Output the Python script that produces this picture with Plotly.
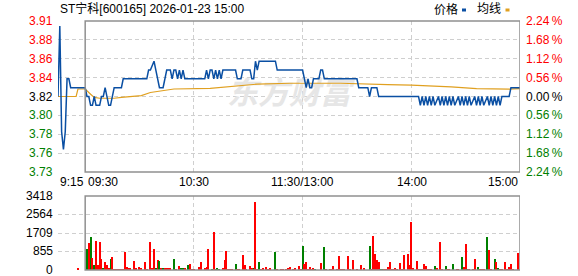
import plotly.graph_objects as go

# ---------------- data ----------------
PREV_CLOSE = 3.82
STEP_PCT = 0.56
title_text = "ST宁科[600165] 2026-01-23 15:00"

# minutes counted from 09:15 (morning 09:30 = 15, 11:30/13:00 = 135, 15:00 = 255)
price_t = [0, 1, 2, 3, 4, 5, 6, 7,
           15, 16, 17, 18, 19, 20, 21, 23, 24, 25, 26, 27, 28, 29, 30, 31, 35, 36, 49,
           50, 51, 53, 54, 55, 56, 58, 59, 60, 62, 63, 64, 65, 66, 67, 68, 69, 70, 81,
           82, 83, 84, 85, 86, 87, 88, 89, 90, 91, 98, 99, 101, 102, 106, 107, 108,
           109, 110, 111, 120, 121, 135, 136, 137, 138, 139, 140, 141, 144, 145, 146,
           147, 165, 166, 171, 172, 173, 176, 177, 199,
           200, 201, 202, 203, 204, 205, 206, 207, 208, 210, 211, 212, 213, 214, 215,
           216, 217, 218, 219, 221, 222, 223, 224, 225, 226, 227, 228, 230, 231, 232,
           233, 234, 235, 237, 238, 239, 240, 241, 242, 243, 244, 245, 249, 250, 255]
price_v = [3.82, 3.90, 3.78, 3.76, 3.78, 3.84, 3.84, 3.83,
           3.83, 3.82, 3.82, 3.81, 3.81, 3.82, 3.81, 3.81, 3.82, 3.82, 3.83, 3.82, 3.81, 3.81, 3.82, 3.83, 3.83, 3.84, 3.84,
           3.85, 3.85, 3.86, 3.85, 3.84, 3.83, 3.83, 3.84, 3.85, 3.85, 3.84, 3.85, 3.85, 3.84, 3.85, 3.84, 3.85, 3.84, 3.84,
           3.85, 3.84, 3.85, 3.85, 3.84, 3.85, 3.84, 3.85, 3.84, 3.85, 3.85, 3.84, 3.84, 3.85, 3.85, 3.84, 3.84,
           3.86, 3.85, 3.86, 3.86, 3.85, 3.85, 3.84, 3.83, 3.84, 3.83, 3.83, 3.84, 3.84, 3.85, 3.85,
           3.84, 3.84, 3.83, 3.83, 3.82, 3.83, 3.83, 3.82, 3.82,
           3.81, 3.82, 3.81, 3.82, 3.81, 3.82, 3.81, 3.82, 3.81, 3.82, 3.81, 3.82, 3.81, 3.82, 3.81,
           3.82, 3.81, 3.82, 3.81, 3.82, 3.81, 3.82, 3.81, 3.82, 3.81, 3.82, 3.81, 3.82, 3.81, 3.82,
           3.81, 3.82, 3.81, 3.82, 3.81, 3.82, 3.81, 3.82, 3.81, 3.82, 3.81, 3.82, 3.82, 3.83, 3.83]

avg_t = [0, 10, 11, 15, 18, 20, 23, 31, 35, 46, 51, 57, 64, 84, 91, 101, 110, 128,
         156, 182, 195, 217, 231, 249, 255]
avg_v = [3.82, 3.82, 3.8285, 3.8285, 3.8225, 3.819, 3.818, 3.818, 3.819, 3.821, 3.8245,
         3.8265, 3.8285, 3.8293, 3.8304, 3.832, 3.834, 3.835,
         3.835, 3.8335, 3.833, 3.831, 3.829, 3.8283, 3.829]

# volume: minute index after 09:30 (1 = 09:31 ... 240 = 15:00), shares in lots, 1 = up (red), 0 = down (green)
vol_k = [1, 2, 3, 4, 5, 6, 7, 8, 9, 10,
         11, 12, 13, 14, 15, 16, 17, 18, 19, 20,
         21, 22, 23, 24, 25, 27, 28, 30, 31, 33,
         34, 36, 37, 38, 39, 40, 41, 42, 43, 44,
         45, 46, 47, 49, 50, 52, 53, 54, 55, 57,
         58, 59, 60, 63, 64, 66, 67, 68, 70, 71,
         72, 73, 74, 76, 77, 78, 79, 80, 81, 83,
         84, 85, 87, 88, 89, 91, 92, 93, 94, 95,
         96, 97, 98, 100, 101, 102, 105, 106, 108, 109,
         111, 112, 113, 115, 116, 118, 119, 120,
         121, 122, 123, 124, 125, 126, 127, 130, 132, 133,
         135, 136, 137, 139, 140, 141, 142, 143, 145, 146,
         148, 150, 152, 154, 157, 158, 159, 160, 161, 162,
         163, 164, 165, 166, 167, 168, 169, 170, 171, 172,
         174, 175, 176, 178, 179, 180, 181, 183, 184, 185,
         186, 187, 188, 189, 190, 191, 193, 194, 196, 197,
         199, 200, 201, 203, 205, 206, 208, 209, 210, 211,
         212, 214, 215, 217, 218, 219, 220, 222, 223, 224,
         226, 227, 228, 229, 230, 232, 233, 234, 235, 236,
         239]
vol_v = [970, 1232, 1540, 554, 231, 1340, 231, 1294, 508, 92,
         370, 231, 62, 508, 616, 46, 46, 46, 46, 46,
         46, 832, 139, 62, 92, 416, 62, 139, 62, 370,
         46, 1294, 62, 970, 108, 462, 416, 62, 62, 92,
         62, 62, 62, 508, 46, 185, 62, 62, 62, 231,
         277, 46, 46, 139, 370, 62, 139, 970, 46, 1756,
         46, 62, 46, 62, 462, 878, 46, 46, 46, 277,
         46, 46, 693, 231, 46, 185, 92, 62, 3142, 46,
         370, 46, 62, 139, 46, 62, 832, 46, 46, 46,
         46, 92, 139, 46, 62, 185, 46, 1124,
         300, 370, 46, 139, 46, 92, 46, 323, 1063, 46,
         46, 46, 185, 46, 647, 46, 46, 46, 647, 46,
         462, 46, 231, 92, 1109, 46, 1571, 739, 462, 370,
         46, 46, 46, 46, 139, 370, 46, 46, 92, 46,
         323, 46, 693, 739, 231, 2218, 92, 416, 46, 46,
         46, 277, 185, 46, 46, 46, 185, 92, 1294, 46,
         185, 46, 46, 277, 46, 46, 601, 139, 1201, 46,
         46, 46, 508, 139, 46, 46, 46, 1525, 924, 46,
         508, 370, 92, 46, 46, 370, 46, 139, 277, 46,
         785]
vol_up = [0, 1, 0, 1, 0, 1, 1, 1, 1, 0,
          1, 1, 1, 0, 1, 1, 1, 1, 1, 1,
          1, 1, 1, 1, 1, 1, 1, 1, 1, 1,
          1, 1, 1, 1, 0, 1, 0, 1, 0, 1,
          1, 1, 1, 0, 1, 1, 0, 0, 1, 0,
          1, 1, 1, 1, 1, 1, 1, 1, 0, 1,
          1, 0, 0, 1, 1, 1, 1, 1, 1, 0,
          1, 1, 1, 1, 1, 1, 1, 0, 1, 1,
          0, 1, 1, 1, 1, 1, 0, 1, 1, 1,
          1, 1, 1, 1, 1, 1, 1, 0,
          1, 1, 1, 1, 1, 1, 0, 1, 0, 1,
          1, 1, 1, 1, 1, 1, 1, 1, 1, 1,
          1, 1, 1, 1, 0, 1, 1, 1, 1, 1,
          0, 0, 1, 1, 1, 1, 1, 1, 1, 1,
          1, 1, 1, 1, 1, 1, 1, 1, 1, 1,
          1, 1, 1, 1, 1, 1, 0, 1, 1, 1,
          0, 1, 1, 0, 1, 1, 0, 1, 1, 0,
          1, 1, 1, 0, 1, 1, 1, 0, 1, 1,
          0, 1, 0, 1, 1, 1, 1, 1, 1, 1,
          1]
pre_vol_t = [11]
pre_vol_v = [60]

price_tick_labels = ["3.91", "3.88", "3.86", "3.84", "3.82", "3.80", "3.78", "3.76", "3.73"]
pct_tick_labels = ["2.24\u2009%", "1.68\u2009%", "1.12\u2009%", "0.56\u2009%", "0.00\u2009%",
                   "0.56\u2009%", "1.12\u2009%", "1.68\u2009%", "2.24\u2009%"]
vol_tick_vals = [3418, 2564, 1709, 855, 0]
time_tick_pos = [0, 15, 75, 135, 195, 255]
time_tick_labels = ["9:15", "09:30", "10:30", "11:30/13:00", "14:00", "15:00"]
legend_labels = ["价格", "均线"]
watermark = "东方财富"

# ---------------- styles / layout ----------------
W, H = 578, 276
ML, MR, MT, MB = 58, 58, 21, 6
PW, PH = W - ML - MR, H - MT - MB
FONT = "Liberation Sans, Arial, Noto Sans CJK SC, sans-serif"
RED, GREEN, BLACK = "#ff0000", "#008000", "#000000"
BLUE_LINE, AVG_LINE = "#0a4fa3", "#e0a020"
GRID = "#cfcfcf"
BORDER = "#909090"


def px_x(px):
    return (px - ML) / PW


def px_y(py):
    return (H - MB - py) / PH


main_dom = [px_y(172), 1.0]
vol_dom = [0.0, px_y(196)]

levels = [PREV_CLOSE * (1 + (4 - i) * STEP_PCT / 100.0) for i in range(9)]
y_lo, y_hi = levels[-1], levels[0]
x_range = [time_tick_pos[0], time_tick_pos[-1]]
open_t = time_tick_pos[1]

fig = go.Figure()

# watermark (under the lines)
fig.add_trace(go.Scatter(
    x=[(x_range[0] + x_range[1]) / 2], y=[PREV_CLOSE], mode="text", text=[watermark],
    textfont=dict(size=31, color="#e6e6e6", family="Noto Sans CJK SC", weight="bold", style="italic"),
    hoverinfo="skip", showlegend=False, xaxis="x", yaxis="y"))

fig.add_trace(go.Scatter(x=avg_t, y=avg_v, mode="lines", line=dict(color=AVG_LINE, width=1.2),
                         showlegend=False, xaxis="x", yaxis="y"))
fig.add_trace(go.Scatter(x=price_t, y=price_v, mode="lines", line=dict(color=BLUE_LINE, width=1.5),
                         showlegend=False, xaxis="x", yaxis="y"))

vol_x = [open_t + k for k in vol_k]
vol_col = [RED if u else GREEN for u in vol_up]
fig.add_trace(go.Bar(x=vol_x, y=vol_v, marker=dict(color=vol_col, line=dict(width=0)), width=0.6,
                     showlegend=False, xaxis="x2", yaxis="y2"))
fig.add_trace(go.Bar(x=pre_vol_t, y=pre_vol_v, marker=dict(color=RED, line=dict(width=0)), width=0.6,
                     showlegend=False, xaxis="x2", yaxis="y2"))

grid_x = [time_tick_pos[0], time_tick_pos[2], time_tick_pos[3], time_tick_pos[4]]
ax_common = dict(showgrid=True, gridcolor=GRID, griddash="4px,3px", gridwidth=1,
                 zeroline=False, showline=False, ticks="", showticklabels=False, fixedrange=True)

fig.update_layout(
    width=W, height=H, margin=dict(l=ML, r=MR, t=MT, b=MB),
    paper_bgcolor="white", plot_bgcolor="white", bargap=0, showlegend=False,
    font=dict(family=FONT, size=12, color=BLACK),
    xaxis=dict(domain=[0, 1], range=x_range, anchor="y", tickvals=grid_x, **ax_common),
    yaxis=dict(domain=main_dom, range=[y_lo, y_hi], anchor="x", tickvals=levels, **ax_common),
    xaxis2=dict(domain=[0, 1], range=x_range, anchor="y2", matches="x", tickvals=grid_x, **ax_common),
    yaxis2=dict(domain=vol_dom, range=[0, vol_tick_vals[0]], anchor="x2", tickvals=vol_tick_vals, **ax_common),
)

# solid frames of the trading session
for yr in ["y domain", "y2 domain"]:
    fig.add_shape(type="rect", xref="x", yref=yr, x0=open_t, x1=x_range[1], y0=0, y1=1,
                  line=dict(color=BORDER, width=1.5), layer="above")

ann = []
# title
ann.append(dict(text=title_text, xref="paper", yref="paper", x=0, y=px_y(8.5), xanchor="left",
                yanchor="middle", showarrow=False, font=dict(size=12, color=BLACK)))
# legend
leg_x = [431.5, 475]
leg_col = [BLUE_LINE, AVG_LINE]
for lab, lx, col in zip(legend_labels, leg_x, leg_col):
    ann.append(dict(text=lab, xref="paper", yref="paper", x=px_x(lx), y=px_y(9), xanchor="left",
                    yanchor="middle", showarrow=False, font=dict(size=12, color=BLACK)))
    fig.add_shape(type="rect", xref="paper", yref="paper", x0=px_x(lx + 30.5), x1=px_x(lx + 34.5),
                  y0=px_y(11.5), y1=px_y(8.5), fillcolor=col, line=dict(width=0))

# price axis labels
for i, (lv, lab, plab) in enumerate(zip(levels, price_tick_labels, pct_tick_labels)):
    col = RED if i < 4 else (BLACK if i == 4 else GREEN)
    ann.append(dict(text=lab, xref="paper", yref="y", x=0, y=lv, xanchor="right", yanchor="middle",
                    xshift=-3, showarrow=False, font=dict(size=12, color=col)))
    ann.append(dict(text=plab, xref="paper", yref="y", x=1, y=lv, xanchor="left", yanchor="middle",
                    xshift=4, showarrow=False, font=dict(size=12, color=col)))
# volume axis labels
for v in vol_tick_vals:
    ann.append(dict(text=str(v), xref="paper", yref="y2", x=0, y=v, xanchor="right", yanchor="middle",
                    xshift=-3, showarrow=False, font=dict(size=12, color=BLACK)))
# time labels
anchors = ["left", "left", "center", "center", "center", "right"]
shifts = [0, 1, 0, 0, 1, 0]
for t, lab, a, s in zip(time_tick_pos, time_tick_labels, anchors, shifts):
    ann.append(dict(text=lab, xref="x", yref="paper", x=t, y=px_y(182), xanchor=a, yanchor="middle",
                    xshift=s, showarrow=False, font=dict(size=12, color=BLACK)))

fig.update_layout(annotations=ann)
fig.write_html("out.html")
